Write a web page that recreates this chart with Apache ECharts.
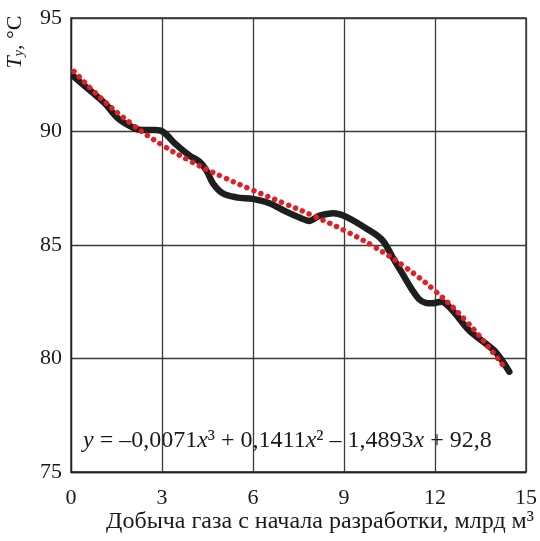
<!DOCTYPE html>
<html>
<head>
<meta charset="utf-8">
<script src="https://cdn.jsdelivr.net/npm/echarts@6/dist/echarts.min.js"></script>
<style>
  html, body { margin: 0; padding: 0; background: #fff; }
  #chart { width: 540px; height: 541px; }
</style>
</head>
<body>
<div id="chart"></div>
<script>
// Measured wellhead temperature vs cumulative gas production
const prodX = [0.1, 0.68, 1.12, 1.55, 1.99, 2.32, 2.76, 3.03, 3.42, 3.9, 4.24, 4.46, 4.68, 5.0, 5.45, 5.99, 6.54, 7.09, 7.55, 7.85, 8.18, 8.65, 9.06, 9.72, 10.26, 10.59, 10.92, 11.25, 11.47, 11.69, 11.91, 12.2, 12.56, 13.11, 13.66, 13.99, 14.45];
const tempY = [92.41, 91.75, 91.24, 90.58, 90.21, 90.07, 90.07, 89.99, 89.48, 88.95, 88.67, 88.30, 87.72, 87.28, 87.10, 87.03, 86.84, 86.47, 86.2, 86.06, 86.28, 86.40, 86.25, 85.74, 85.22, 84.49, 83.75, 83.02, 82.62, 82.45, 82.43, 82.5, 82.14, 81.26, 80.67, 80.30, 79.42];

// Cubic trend line values
const trendX = [0.1, 1, 2, 3, 4, 5, 6, 7, 8, 9, 10, 11, 12, 13, 14, 14.35];
const trendY = [92.65, 91.45, 90.33, 89.41, 88.65, 88.00, 87.41, 86.85, 86.28, 85.65, 84.92, 84.04, 82.98, 81.69, 80.12, 79.5];

// Trend equation coefficients (x³, x², x, const)
const coefLabels = ['0,0071', '0,1411', '1,4893', '92,8'];

const xTicks = [0, 3, 6, 9, 12, 15];
const yTicks = [75, 80, 85, 90, 95];

const serif = 'Liberation Serif';
const ink = '#1a1a1a';
const chart = echarts.init(document.getElementById('chart'), null, { renderer: 'canvas' });

const eqText = '{i|y} = –' + coefLabels[0] + '{i|x}³ + ' + coefLabels[1] + '{i|x}² – ' +
  coefLabels[2] + '{i|x} + ' + coefLabels[3];

chart.setOption({
  animation: false,
  backgroundColor: '#fff',
  grid: {
    left: 71, right: 13, top: 18, bottom: 69,
    show: true, borderColor: '#222', borderWidth: 1.3, backgroundColor: 'transparent'
  },
  xAxis: {
    type: 'value',
    min: xTicks[0], max: xTicks[xTicks.length - 1], interval: 3,
    axisLine: { show: true, lineStyle: { color: '#222', width: 1.3 } },
    axisTick: { show: false },
    splitLine: { show: true, lineStyle: { color: '#3a3a3a', width: 1.3 } },
    axisLabel: { color: ink, fontFamily: serif, fontSize: 22, margin: 15 },
    name: 'Добыча газа с начала разработки, млрд м³',
    nameLocation: 'end',
    nameGap: 0,
    nameTextStyle: {
      color: ink, fontFamily: serif, fontSize: 24,
      align: 'right', verticalAlign: 'top', padding: [38, -8, 0, 0]
    }
  },
  yAxis: {
    type: 'value',
    min: yTicks[0], max: yTicks[yTicks.length - 1], interval: 5,
    axisLine: { show: true, lineStyle: { color: '#222', width: 1.3 } },
    axisTick: { show: false },
    splitLine: { show: true, lineStyle: { color: '#3a3a3a', width: 1.3 } },
    axisLabel: { color: ink, fontFamily: serif, fontSize: 22, margin: 9 }
  },
  graphic: [
    {
      type: 'text',
      x: 15, y: 42,
      rotation: Math.PI / 2,
      style: {
        text: '{i|T}{s|y}{n|, °C}',
        fill: ink,
        align: 'center', verticalAlign: 'middle',
        rich: {
          i: { fontFamily: serif, fontStyle: 'italic', fontSize: 22, fill: ink },
          s: { fontFamily: serif, fontStyle: 'italic', fontSize: 14, fill: ink, verticalAlign: 'bottom', padding: [9, 0, 0, 0] },
          n: { fontFamily: serif, fontSize: 22, fill: ink }
        }
      }
    },
    {
      type: 'text',
      x: 83, y: 441,
      style: {
        text: eqText,
        fill: ink,
        fontFamily: serif, fontSize: 24,
        align: 'left', verticalAlign: 'middle',
        rich: {
          i: { fontFamily: serif, fontStyle: 'italic', fontSize: 24, fill: ink }
        }
      }
    }
  ],
  series: [
    {
      type: 'line',
      data: prodX.map((x, i) => [x, tempY[i]]),
      smooth: 0.35,
      symbol: 'none',
      lineStyle: { color: '#1e1e1e', width: 6.5, cap: 'round', join: 'round' },
      z: 2
    },
    {
      type: 'line',
      data: trendX.map((x, i) => [x, trendY[i]]),
      smooth: 0.4,
      symbol: 'none',
      lineStyle: { color: '#e31e24', width: 5.5, type: [0.01, 7.5], cap: 'round' },
      z: 3
    }
  ]
});
</script>
</body>
</html>
